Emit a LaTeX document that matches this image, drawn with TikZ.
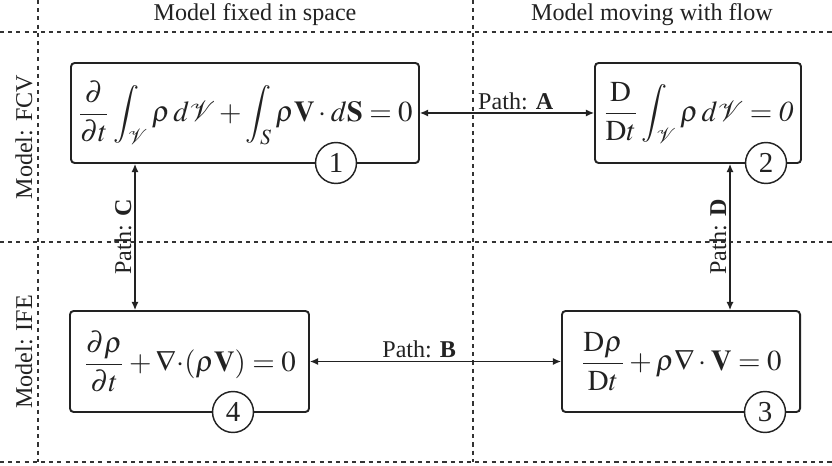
\documentclass[tikz,border=0pt]{standalone}
\usepackage{amsmath}
\usepackage{mathptmx}
\usepackage{fontspec}
\setmainfont{Liberation Serif}
\usetikzlibrary{arrows.meta,positioning,calc}
\definecolor{inkgray}{HTML}{222222}
\definecolor{gridgray}{HTML}{333333}
\tikzset{
  eqbox/.style={draw=inkgray, rounded corners=1.5pt, line width=0.8pt, inner sep=0pt, text=inkgray, font=\fontsize{12}{15}\selectfont},
  numcirc/.style={circle, draw=inkgray, fill=white, line width=0.6pt, minimum size=17pt, inner sep=0pt, text=inkgray, font=\large},
  biarrow/.style={{Latex[length=3.4pt,width=3pt]}-{Latex[length=3.4pt,width=3pt]}, line width=0.55pt, draw=inkgray},
  gridline/.style={draw=gridgray, line width=0.6pt, dash pattern=on 1.7pt off 1.7pt},
  headlabel/.style={text=inkgray, font=\normalsize, inner sep=0pt},
  pathlabel/.style={text=inkgray, font=\normalsize, inner sep=1.2pt}
}
\begin{document}
\begin{tikzpicture}[x=0.415pt, y=-0.415pt]
  \useasboundingbox (0,0) rectangle (832,466);

  % frame of the two by two table
  \draw[gridline] (0,32) -- (832,32);
  \draw[gridline] (0,242) -- (832,242);
  \draw[gridline] (0,462) -- (832,462);
  \draw[gridline] (38,0) -- (38,462);
  \draw[gridline] (473,0) -- (473,462);

  \node[headlabel] (fixhead) at (255,15) {Model fixed in space};
  \node[headlabel] (movhead) at (652,15) {Model moving with flow};
  \node[headlabel, rotate=90] (fcvhead) at (24,137) {Model: FCV};
  \node[headlabel, rotate=90] (ifehead) at (24,352) {Model: IFE};

  % the four forms of the continuity equation
  \node[eqbox, minimum width=144.4pt, minimum height=41.5pt] (fixfcv) at (245,113)
    {$\dfrac{\partial}{\partial t}\displaystyle\int_{\mathcal{V}}\rho\,d\mathcal{V}+\int_{S}\rho\mathbf{V}\cdot d\mathbf{S}=0$};
  \node[eqbox, minimum width=85.5pt, minimum height=41.5pt] (movfcv) at (698,113)
    {$\dfrac{\mathrm{D}}{\mathrm{D}t}\displaystyle\int_{\mathcal{V}}\rho\,d\mathcal{V}=\mathit{0}$};
  \node[eqbox, minimum width=98.8pt, minimum height=41.9pt] (movife) at (681,361.5)
    {$\dfrac{\mathrm{D}\rho}{\mathrm{D}t}+\rho\nabla\cdot\mathbf{V}=0$};
  \node[eqbox, minimum width=99.2pt, minimum height=41.9pt] (fixife) at (189.5,361.5)
    {$\dfrac{\partial\rho}{\partial t}+\nabla{\cdot}(\rho\mathbf{V})=0$};

  \node[numcirc] (num1) at (336,163) {1};
  \node[numcirc] (num2) at (766,163) {2};
  \node[numcirc] (num3) at (765,412) {3};
  \node[numcirc] (num4) at (233,412) {4};

  % paths between the models
  \coordinate (cline) at (135,0);
  \coordinate (dline) at (730,0);
  \draw[biarrow] (fixfcv.east) -- (movfcv.west) node[pathlabel, above, pos=0.55] {Path: \textbf{A}};
  \draw[biarrow] (fixife.east) -- (movife.west) node[pathlabel, above, pos=0.435] {Path: \textbf{B}};
  \draw[biarrow] (fixife.north -| cline) -- (fixfcv.south -| cline) node[pathlabel, above, sloped, midway] {Path: \textbf{C}};
  \draw[biarrow] (movife.north -| dline) -- (movfcv.south -| dline) node[pathlabel, above, sloped, midway] {Path: \textbf{D}};
\end{tikzpicture}
\end{document}
